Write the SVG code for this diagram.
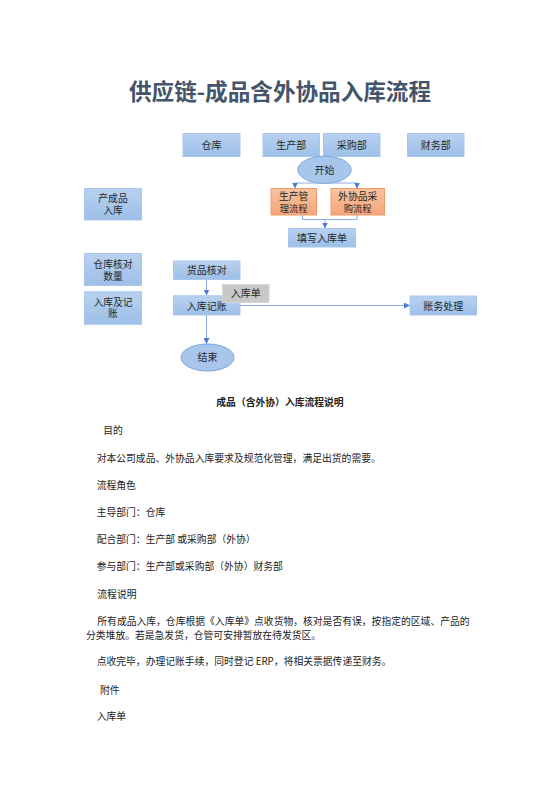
<svg xmlns="http://www.w3.org/2000/svg" width="560" height="792" viewBox="0 0 560 792">
<defs>
<linearGradient id="gb" x1="0" y1="0" x2="0" y2="1">
<stop offset="0" stop-color="#b9d1f0"/>
<stop offset="1" stop-color="#9dbfe8"/>
</linearGradient>
<linearGradient id="go" x1="0" y1="0" x2="0" y2="1">
<stop offset="0" stop-color="#f9c3a0"/>
<stop offset="1" stop-color="#f4a67a"/>
</linearGradient>
<marker id="ah" viewBox="0 0 10 10" refX="10" refY="5" markerWidth="6" markerHeight="6" orient="auto" markerUnits="userSpaceOnUse">
<path d="M0,0 L10,5 L0,10 z" fill="#4a7bd0"/>
</marker>
</defs>
<style>
.b{fill:url(#gb);stroke:#a9c6ee;stroke-width:1}
.o{fill:url(#go);stroke:#f29a6c;stroke-width:1}
.g{fill:#c8c8c8;stroke:#d6d6d6;stroke-width:1}
.e{fill:#a8c6ec;stroke:#7fa5dc;stroke-width:1}
.t{font-family:"Noto Sans CJK SC","Noto Sans",sans-serif;font-size:10px;fill:#262626;text-anchor:middle}
.m{font-family:"Liberation Sans","Noto Sans CJK SC",sans-serif;font-size:9.8px;fill:#262626;text-anchor:middle}
.s{font-size:9.3px}
.p{font-family:"Noto Sans CJK SC","Noto Sans",sans-serif;font-size:9.8px;fill:#222}
.c{fill:none;stroke:#8aaee6;stroke-width:1}
</style>
<rect width="560" height="792" fill="#ffffff"/>
<text x="280" y="99.5" style="font-family:'Noto Sans CJK SC','Noto Sans',sans-serif;font-size:22.6px;font-weight:700;fill:#44546a;text-anchor:middle">供应链-成品含外协品入库流程</text>

<g id="connectors">
<polyline class="c" points="295,183 357,183"/>
<line class="c" x1="295" y1="183" x2="295" y2="188.5" marker-end="url(#ah)"/>
<line class="c" x1="357" y1="183" x2="357" y2="188.5" marker-end="url(#ah)"/>
<polyline class="c" points="302.5,215 302.5,219.5 357,219.5 357,215"/>
<line class="c" x1="325" y1="219.5" x2="325" y2="228.5" marker-end="url(#ah)"/>
<line class="c" x1="206.5" y1="279.5" x2="206.5" y2="295.5" marker-end="url(#ah)"/>
<line class="c" x1="240" y1="305.5" x2="410" y2="305.5" marker-end="url(#ah)"/>
<line class="c" x1="206.5" y1="315" x2="206.5" y2="344" marker-end="url(#ah)"/>
</g>

<g id="n-cangku"><rect class="b" x="183" y="133.5" width="57" height="23"/><text class="t" x="211.5" y="148.5">仓库</text></g>
<g id="n-shengchanbu"><rect class="b" x="263" y="133.5" width="56.5" height="23"/><text class="t" x="291.2" y="148.5">生产部</text></g>
<g id="n-caigoubu"><rect class="b" x="323.5" y="133.5" width="56.5" height="23"/><text class="t" x="351.7" y="148.5">采购部</text></g>
<g id="n-caiwubu"><rect class="b" x="407.5" y="133.5" width="56.5" height="23"/><text class="t" x="435.7" y="148.5">财务部</text></g>
<g id="n-start"><ellipse class="e" cx="324.5" cy="169.8" rx="26.7" ry="13.6"/><text class="t" x="324.5" y="173.5">开始</text></g>
<g id="n-shengchanliucheng"><rect class="o" x="271" y="188.5" width="45.5" height="26.5"/><text class="m" x="293.7" y="200.3">生产管<tspan class="s" x="293.7" dy="11.2">理流程</tspan></text></g>
<g id="n-waixieliucheng"><rect class="o" x="331" y="188.5" width="53.5" height="26.5"/><text class="m" x="357.7" y="200.3">外协品采<tspan class="s" x="357.7" dy="11.2">购流程</tspan></text></g>
<g id="n-tianxie"><rect class="b" x="288.5" y="228.5" width="67" height="18.5"/><text class="t" x="322" y="241.5">填写入库单</text></g>
<g id="n-chanchengpin"><rect class="b" x="84.5" y="188.5" width="57" height="31.5"/><text class="m" x="113" y="202.3">产成品<tspan x="113" dy="11.3">入库</tspan></text></g>
<g id="n-hedui-shuliang"><rect class="b" x="84.5" y="253.5" width="57" height="32"/><text class="m" x="113" y="268.3">仓库核对<tspan x="113" dy="11.3">数量</tspan></text></g>
<g id="n-jizhang"><rect class="b" x="84.5" y="291.8" width="57" height="32.5"/><text class="m" x="113" y="305.6">入库及记<tspan x="113" dy="11.7">账</tspan></text></g>
<g id="n-huopin"><rect class="b" x="173.5" y="261" width="66.5" height="18.5"/><text class="t" x="206.7" y="273.8">货品核对</text></g>
<g id="n-rukujizhang"><rect class="b" x="173.5" y="295.8" width="66.5" height="19.2"/><text class="t" x="206.7" y="309.5">入库记账</text></g>
<g id="n-rukudan"><rect class="g" x="222.5" y="284.5" width="46.5" height="18"/><text class="t" x="245.7" y="297">入库单</text></g>
<g id="n-zhangwu"><rect class="b" x="410" y="296" width="66.5" height="19"/><text class="t" x="443.2" y="309.5">账务处理</text></g>
<g id="n-end"><ellipse class="e" cx="207.5" cy="357.5" rx="26.5" ry="13.5"/><text class="t" x="207.5" y="361.2">结束</text></g>

<g id="body">
<text x="280" y="406" style="font-family:'Noto Sans CJK SC','Noto Sans',sans-serif;font-size:9.8px;font-weight:700;fill:#222;text-anchor:middle">成品（含外协）入库流程说明</text>
<text class="p" x="103.3" y="433.5">目的</text>
<text class="p" x="96.7" y="461.8">对本公司成品、外协品入库要求及规范化管理，满足出货的需要。</text>
<text class="p" x="96.7" y="488.5">流程角色</text>
<text class="p" x="96.7" y="515.8">主导部门：仓库</text>
<text class="p" x="96.7" y="542.8">配合部门：生产部 或采购部（外协）</text>
<text class="p" x="96.7" y="569.5">参与部门：生产部或采购部（外协）财务部</text>
<text class="p" x="97.3" y="597.5">流程说明</text>
<text class="p" x="97.3" y="625.2">所有成品入库，仓库根据《入库单》点收货物，核对是否有误，按指定的区域、产品的</text>
<text class="p" x="86" y="638.5">分类堆放。若是急发货，仓管可安排暂放在待发货区。</text>
<text class="p" x="96.7" y="665.2">点收完毕，办理记账手续，同时登记 ERP，将相关票据传递至财务。</text>
<text class="p" x="100" y="693.5">附件</text>
<text class="p" x="96.7" y="720.2">入库单</text>
</g>
</svg>
